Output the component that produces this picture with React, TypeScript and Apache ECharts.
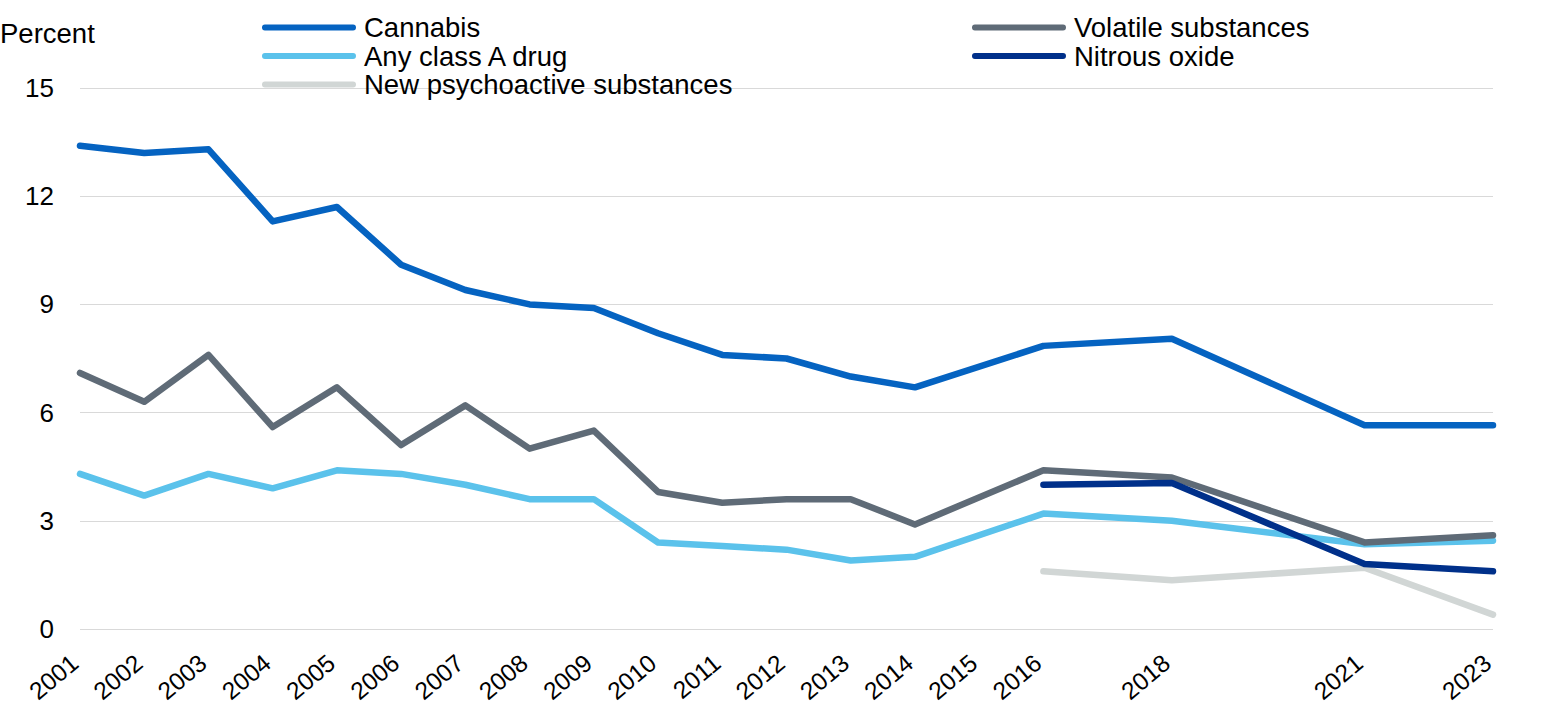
import React, { useEffect, useRef } from "react";
import * as echarts from "echarts";

const years = [2001, 2002, 2003, 2004, 2005, 2006, 2007, 2008, 2009, 2010, 2011, 2012, 2013, 2014, 2016, 2018, 2021, 2023];
const cannabis = [13.4, 13.2, 13.3, 11.3, 11.7, 10.1, 9.4, 9.0, 8.9, 8.2, 7.6, 7.5, 7.0, 6.7, 7.85, 8.05, 5.65, 5.65];
const volatile = [7.1, 6.3, 7.6, 5.6, 6.7, 5.1, 6.2, 5.0, 5.5, 3.8, 3.5, 3.6, 3.6, 2.9, 4.4, 4.2, 2.4, 2.6];
const classA = [4.3, 3.7, 4.3, 3.9, 4.4, 4.3, 4.0, 3.6, 3.6, 2.4, 2.3, 2.2, 1.9, 2.0, 3.2, 3.0, 2.35, 2.45];
const nitrousYears = [2016, 2018, 2021, 2023];
const nitrous = [4.0, 4.05, 1.8, 1.6];
const npsYears = [2016, 2018, 2021, 2023];
const nps = [1.6, 1.35, 1.7, 0.4];
const labelYears = [2001, 2002, 2003, 2004, 2005, 2006, 2007, 2008, 2009, 2010, 2011, 2012, 2013, 2014, 2015, 2016, 2018, 2021, 2023];

const FONT = "'Liberation Sans', Arial, sans-serif";
const FS = 27.5;
const ICON = "path://M3,0 H93 A3,3 0 0 1 93,6 H3 A3,3 0 0 1 3,0 Z";

export default function App() {
  const ref = useRef<HTMLDivElement>(null);
  useEffect(() => {
    const chart = echarts.init(ref.current!, null, { renderer: "svg" });
    const pair = (xs: number[], ys: number[]) => xs.map((x, i) => [x, ys[i]]);
    const mk = (name: string, data: number[][], color: string, z: number) => ({
      name,
      type: "line",
      data,
      showSymbol: false,
      symbol: "none",
      z,
      lineStyle: { color, width: 6.5, cap: "round", join: "round" },
      itemStyle: { color },
    });
    const legendText = { fontSize: FS, fontFamily: FONT, color: "#000", lineHeight: 28, padding: [0, 0, 0, 3] };
    chart.setOption({
      animation: false,
      backgroundColor: "#fff",
      grid: { left: 80, right: 66, top: 88, bottom: 86 },
      graphic: [
        { type: "text", left: 0, top: 19, style: { text: "Percent", font: `${FS}px ${FONT}`, fill: "#000" } },
      ],
      legend: [
        {
          orient: "vertical",
          left: 257,
          top: 8.5,
          itemWidth: 94,
          itemHeight: 6,
          itemGap: 0.5,
          icon: ICON,
          textStyle: legendText,
          data: ["Cannabis", "Any class A drug", "New psychoactive substances"],
        },
        {
          orient: "vertical",
          left: 967,
          top: 8.5,
          itemWidth: 94,
          itemHeight: 6,
          itemGap: 0.5,
          icon: ICON,
          textStyle: legendText,
          data: ["Volatile substances", "Nitrous oxide"],
        },
      ],
      xAxis: {
        type: "value",
        min: 2001,
        max: 2023,
        interval: 1,
        axisLine: { show: false },
        axisTick: { show: false },
        splitLine: { show: false },
        axisLabel: {
          rotate: 40,
          margin: 26,
          padding: [0, 7, 0, 0],
          fontSize: 24.5,
          fontFamily: FONT,
          color: "#000",
          hideOverlap: false,
          showMinLabel: true,
          showMaxLabel: true,
          formatter: (v: number) => (labelYears.includes(v) ? String(v) : ""),
        },
      },
      yAxis: {
        type: "value",
        min: 0,
        max: 15,
        interval: 3,
        axisLine: { show: false },
        axisTick: { show: false },
        splitLine: { lineStyle: { color: "#d9d9d9", width: 1 } },
        axisLabel: { margin: 26, fontSize: 26, fontFamily: FONT, color: "#000" },
      },
      series: [
        mk("New psychoactive substances", pair(npsYears, nps), "#d1d6d5", 2),
        mk("Any class A drug", pair(years, classA), "#5bc2eb", 3),
        mk("Volatile substances", pair(years, volatile), "#5f6b77", 4),
        mk("Nitrous oxide", pair(nitrousYears, nitrous), "#00308a", 5),
        mk("Cannabis", pair(years, cannabis), "#0563c1", 6),
      ],
    });
    return () => chart.dispose();
  }, []);
  return <div ref={ref} style={{ position: "fixed", left: 0, top: 0, width: 1559, height: 715 }} />;
}
